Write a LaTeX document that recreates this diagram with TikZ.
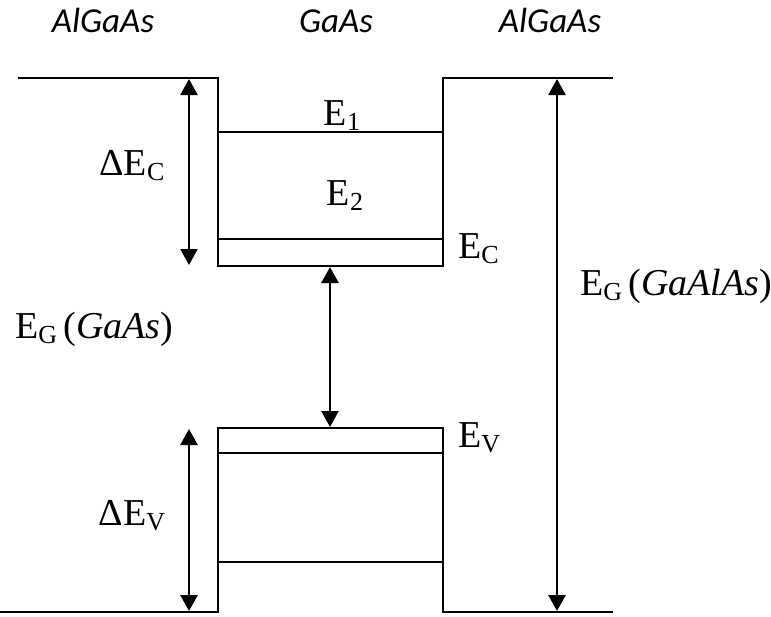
\documentclass[tikz,border=0pt]{standalone}
\usepackage{fontspec}
\setmainfont{Liberation Serif}
\newfontfamily\layerfont{Carlito}
\usetikzlibrary{arrows.meta}
\newcommand{\lowsub}[1]{\raisebox{-0.14em}{\fontsize{26}{26}\selectfont #1}}

\begin{document}
\begin{tikzpicture}[x=1pt, y=-1pt,
        band/.style={line width=2pt},
        gap/.style={line width=2.6pt, {Triangle[length=16pt,width=17pt]}-{Triangle[length=16pt,width=17pt]}},
        layer/.style={font=\layerfont\itshape\fontsize{35}{38}\selectfont, anchor=base, inner sep=0pt},
        lbl/.style={font=\fontsize{38}{42}\selectfont, inner sep=0pt}]

        \useasboundingbox (0,0) rectangle (771,616);

        % corners of the well
        \coordinate (lt) at (18,78);
        \coordinate (wlt) at (218,78);
        \coordinate (wrt) at (443,78);
        \coordinate (rt) at (613,78);
        \coordinate (wlc) at (218,266);
        \coordinate (wrc) at (443,266);
        \coordinate (lb) at (0,612);
        \coordinate (wlb) at (218,612);
        \coordinate (wrb) at (443,612);
        \coordinate (rb) at (613,612);
        \coordinate (wlv) at (218,428);
        \coordinate (wrv) at (443,428);

        \draw[band] (lt) -- (wlt) -- (wlc) -- (wrc) -- (wrt) -- (rt);
        \draw[band] (lb) -- (wlb) -- (wlv) -- (wrv) -- (wrb) -- (rb);
        \draw[band] (218,132) -- (443,132);
        \draw[band] (218,239) -- (443,239);
        \draw[band] (218,453) -- (443,453);
        \draw[band] (218,562) -- (443,562);

        % arrow ends
        \coordinate (dc1) at (189,79);
        \coordinate (dc2) at (189,265);
        \coordinate (gm1) at (330,267);
        \coordinate (gm2) at (330,427);
        \coordinate (dv1) at (189,429);
        \coordinate (dv2) at (189,611);
        \coordinate (gw1) at (557,79);
        \coordinate (gw2) at (557,611);

        \draw[gap] (dc1) -- (dc2);
        \draw[gap] (gm1) -- (gm2);
        \draw[gap] (dv1) -- (dv2);
        \draw[gap] (gw1) -- (gw2);

        \node[layer] (algaasl) at (103,32) {AlGaAs};
        \node[layer] (gaas) at (336,32) {GaAs};
        \node[layer] (algaasr) at (550,32) {AlGaAs};

        \node[lbl, anchor=base] (e1) at (342,125) {E\lowsub{1}};
        \node[lbl, anchor=base] (e2) at (345,205) {E\lowsub{2}};
        \node[lbl, anchor=base] (dec) at (132,175) {ΔE\lowsub{C}};
        \node[lbl, anchor=base] (dev) at (132,525) {ΔE\lowsub{V}};
        \node[lbl, anchor=base west] (ec) at (458,258) {E\lowsub{C}};
        \node[lbl, anchor=base west] (ev) at (458,447) {E\lowsub{V}};
        \node[lbl, anchor=base west] (eggaas) at (15,338) {E\lowsub{G}\,(\textit{GaAs})};
        \node[lbl, anchor=base west] (egalas) at (580,295) {E\lowsub{G}\,(\textit{GaAlAs})};
      \end{tikzpicture}
\end{document}
